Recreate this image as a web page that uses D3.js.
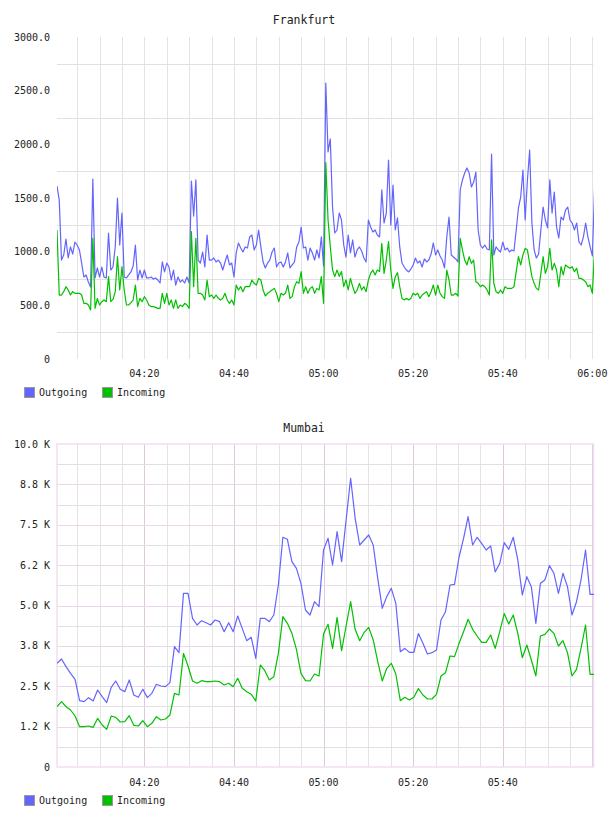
<!DOCTYPE html>
<html>
<head>
<meta charset="utf-8">
<script src="https://cdn.jsdelivr.net/npm/d3@7"></script>
<style>
body { margin: 0; background: #fff; }
text { font-family: "DejaVu Sans Mono", monospace; fill: #222; }
</style>
</head>
<body>
<div id="graph"></div>
<script>
// series shared by both panels
var seriesNames = ['Outgoing', 'Incoming']
var seriesColors = ['#6464ff', '#00c000']

// Frankfurt: 30 s samples from 04:00:30
var frankfurtStart = '04:00:30', frankfurtStepSec = 30
var frankfurtOut = [
  1612,1481,922,969,1118,941,1044,978,1090,1062,
  1016,894,764,783,717,671,1677,755,848,764,
  857,764,755,1174,829,857,1044,1500,1062,1360,
  764,755,783,811,866,1062,736,829,755,829,
  755,755,764,745,755,736,708,904,811,894,
  857,736,829,689,764,717,736,708,764,708,
  1658,1332,1668,922,894,997,857,1155,922,922,
  941,904,922,894,829,904,969,876,894,764,
  988,1081,1034,997,1044,1034,1137,1155,1016,1062,
  1202,1044,904,848,894,922,997,1034,857,894,
  904,857,904,988,848,876,904,1044,1090,1230,
  1034,1044,922,1034,988,922,1016,941,1137,866,
  2571,1929,2050,1416,1174,1202,1360,1295,1062,950,
  1155,988,1109,950,1016,1044,1006,941,904,1295,
  1230,1183,1202,1155,1137,1575,1267,1360,1854,1248,
  1621,1202,1314,1044,894,857,829,811,839,876,
  941,894,913,857,932,904,922,978,1081,969,
  1016,960,922,848,1137,1323,969,950,932,904,
  1575,1668,1733,1780,1733,1603,1649,1742,1202,1062,
  1034,1062,1025,1016,1910,969,1044,1016,997,1090,
  1016,1034,997,1016,1006,1202,1407,1509,1761,1295,
  1668,1947,1267,1016,941,978,1202,1416,1295,1221,
  1668,1360,1556,1230,1127,1323,1295,1388,1416,1295,
  1267,1202,1267,1090,1062,1137,1267,1137,1044,960,
  1603
]
var frankfurtIn = [
  1202,596,596,627,674,643,596,627,612,612,
  612,596,519,519,503,457,1124,472,565,503,
  534,550,534,767,534,556,627,953,643,860,
  643,503,503,525,550,689,488,565,534,581,
  550,503,488,488,481,472,472,612,519,612,
  503,550,472,550,472,503,488,519,503,472,
  1186,674,1124,612,612,596,550,736,581,596,
  565,596,565,550,565,612,550,519,550,503,
  689,643,674,627,674,674,674,736,705,689,
  751,736,643,587,612,627,643,658,612,534,
  612,596,612,689,565,581,674,720,705,814,
  612,674,612,658,674,612,658,643,767,519,
  1830,1295,1047,829,767,829,770,814,674,736,
  643,751,674,612,643,705,643,674,627,736,
  798,829,783,829,814,1078,798,922,1093,829,
  658,767,804,674,565,550,565,550,565,612,
  596,612,565,596,612,627,581,627,689,596,
  689,612,581,565,829,736,596,596,612,587,
  1124,1016,922,876,953,891,922,720,705,674,
  689,674,643,596,1109,705,627,612,643,612,
  674,658,658,658,674,814,953,876,969,1031,
  1016,891,767,705,658,643,798,953,798,860,
  1031,829,891,829,674,860,783,876,860,845,
  860,814,845,751,751,736,720,674,689,612,
  1031
]
var frankfurtYTicks = [0, 500, 1000, 1500, 2000, 2500, 3000]
var frankfurtYLabels = ['0', '500.0', '1000.0', '1500.0', '2000.0', '2500.0', '3000.0']
var frankfurtYGrid = [250, 750, 1250, 1750, 2250, 2750]
var frankfurtXLabels = ['04:20', '04:40', '05:00', '05:20', '05:40', '06:00']

// Mumbai: ~1 min samples from 04:00:30
var mumbaiStart = '04:00:30', mumbaiStepSec = 60.5
var mumbaiOut = [
  3210,3344,3106,2900,2715,2054,2023,2147,2043,2384,
  2177,1991,2467,2663,2405,2333,2694,2229,2157,2405,
  2147,2281,2560,2508,2487,2611,3726,3540,5376,5376,
  4602,4396,4530,4468,4396,4551,4499,4190,4468,4190,
  4675,4293,3912,4014,3365,4602,4602,4499,4706,5635,
  7111,7049,6357,6151,5687,4861,4706,5118,4963,6718,
  7080,6254,7285,6357,7647,8938,7699,6873,7028,7183,
  6873,5842,4913,5274,5532,5067,3570,3674,3550,3550,
  4133,3829,3498,3540,3622,4551,4808,5635,5656,6502,
  7080,7750,6873,7111,6925,6718,6842,6040,6300,6946,
  6739,7111,6409,5325,5893,5583,4447,5687,5790,6233,
  5997,5376,5997,5583,4706,5118,5790,6718,5346,5346
]
var mumbaiIn = [
  1867,2023,1867,1765,1579,1248,1248,1269,1228,1507,
  1300,1166,1579,1538,1393,1403,1589,1290,1269,1434,
  1248,1352,1558,1455,1486,1610,2281,2229,3519,3127,
  2663,2591,2673,2642,2642,2663,2642,2539,2591,2487,
  2746,2436,2333,2250,2043,3158,2983,2694,2797,3519,
  4654,4447,4138,3643,2900,2673,2663,2879,2817,4118,
  4417,3674,4633,3601,4365,5118,4262,3910,4170,4324,
  3932,3261,2663,3056,3210,2879,2054,2157,2074,2157,
  2426,2229,2105,2105,2250,2817,2920,3437,3416,3829,
  4190,4572,4262,4056,3860,3860,4087,3674,4190,4751,
  4427,4706,4138,3384,3777,3313,2817,4056,4107,4272,
  4138,3746,3910,3540,2817,3025,3674,4396,2870,2870
]
var mumbaiYTicks = [0, 1250, 2500, 3750, 5000, 6250, 7500, 8750, 10000]
var mumbaiYLabels = ['0', '1.2 K', '2.5 K', '3.8 K', '5.0 K', '6.2 K', '7.5 K', '8.8 K', '10.0 K']
var mumbaiYGrid = [625, 1875, 3125, 4375, 5625, 6875, 8125, 9375]
var mumbaiXLabels = ['04:20', '04:40', '05:00', '05:20', '05:40']

var parseTime = d3.timeParse('%H:%M:%S')
var W = 608, H = 816
var left = 57, right = 593.5

var svg = d3.select('#graph').append('svg')
  .attr('width', W).attr('height', H)

var x = d3.scaleTime()
  .domain([parseTime('04:00:30'), parseTime('06:00:15')])
  .range([left, right])

function timesFor(start, step, n) {
  var t0 = parseTime(start)
  return d3.range(n).map(i => new Date(t0.getTime() + i * step * 1000))
}

function drawPanel(p) {
  var g = svg.append('g')
  var y = d3.scaleLinear().domain(p.yDomain).range([p.bottom, p.top])

  g.append('text')
    .attr('x', 304).attr('y', p.titleY)
    .attr('text-anchor', 'middle').attr('dominant-baseline', 'central')
    .style('font-size', '11.5px')
    .text(p.title)

  // vertical grid every 5 minutes
  var minor = x.ticks(d3.timeMinute.every(5))
  g.selectAll('line.vgrid').data(minor).enter().append('line')
    .attr('x1', d => Math.round(x(d)) + 0.5).attr('x2', d => Math.round(x(d)) + 0.5)
    .attr('y1', p.top).attr('y2', p.bottom)
    .attr('stroke', d => p.framed && d.getMinutes() % 20 == 0 ? p.majorV : '#e3e3e3')

  g.selectAll('line.hgrid').data(p.yGrid).enter().append('line')
    .attr('x1', left).attr('x2', right)
    .attr('y1', d => Math.round(y(d)) + 0.5).attr('y2', d => Math.round(y(d)) + 0.5)
    .attr('stroke', '#e0e0e0')

  if (p.framed) {
    g.selectAll('line.major').data(p.yTicks.slice(1, -1)).enter().append('line')
      .attr('x1', left).attr('x2', right)
      .attr('y1', d => Math.round(y(d)) + 0.5).attr('y2', d => Math.round(y(d)) + 0.5)
      .attr('stroke', p.majorH)
    g.append('rect')
      .attr('x', left).attr('y', p.top)
      .attr('width', right - left).attr('height', p.bottom - p.top)
      .attr('fill', 'none').attr('stroke', '#efe0f0').attr('stroke-width', 1.5)
  }

  // y labels
  g.selectAll('text.ylab').data(p.yTicks).enter().append('text')
    .attr('x', 50).attr('y', d => y(d))
    .attr('text-anchor', 'end').attr('dominant-baseline', 'central')
    .style('font-size', '10px')
    .text((d, i) => p.yLabels[i])

  // x labels
  g.selectAll('text.xlab').data(p.xLabels).enter().append('text')
    .attr('x', d => x(parseTime(d + ':00'))).attr('y', p.xLabelY)
    .attr('text-anchor', 'middle').attr('dominant-baseline', 'central')
    .style('font-size', '10px')
    .text(d => d)

  var clipId = 'clip' + p.title
  svg.append('clipPath').attr('id', clipId).append('rect')
    .attr('x', left).attr('y', p.top - 5).attr('width', right - left + 0.5).attr('height', p.bottom - p.top + 10)

  var times = timesFor(p.start, p.step, p.series[0].length)
  var line = d3.line()
    .x((d, i) => x(times[i]))
    .y(d => y(d))

  g.append('g').attr('clip-path', 'url(#' + clipId + ')')
    .selectAll('path').data(p.series).enter().append('path')
    .attr('d', line)
    .attr('fill', 'none')
    .attr('stroke', (d, i) => seriesColors[i])
    .attr('stroke-width', 1.2)
    .attr('stroke-linejoin', 'round')

  // legend
  var lg = g.selectAll('g.legend').data(seriesNames).enter().append('g')
    .attr('transform', (d, i) => 'translate(' + (24 + i * 78) + ',' + p.legendY + ')')
  lg.append('rect')
    .attr('x', 0.5).attr('y', -4.5).attr('width', 10).attr('height', 10)
    .attr('fill', (d, i) => seriesColors[i]).attr('stroke', '#999')
  lg.append('text')
    .attr('x', 15).attr('y', 0.5)
    .attr('dominant-baseline', 'central')
    .style('font-size', '10px')
    .text(d => d)
}

drawPanel({
  title: 'Frankfurt', titleY: 20, top: 37, bottom: 359,
  yDomain: [0, 3000], yTicks: frankfurtYTicks, yLabels: frankfurtYLabels, yGrid: frankfurtYGrid,
  xLabels: frankfurtXLabels, xLabelY: 373, legendY: 392,
  start: frankfurtStart, step: frankfurtStepSec,
  series: [frankfurtOut, frankfurtIn], framed: false
})

drawPanel({
  title: 'Mumbai', titleY: 428, top: 444, bottom: 767,
  yDomain: [0, 10000], yTicks: mumbaiYTicks, yLabels: mumbaiYLabels, yGrid: mumbaiYGrid,
  xLabels: mumbaiXLabels, xLabelY: 782, legendY: 800,
  start: mumbaiStart, step: mumbaiStepSec,
  series: [mumbaiOut, mumbaiIn], framed: true, majorV: '#dfc9df', majorH: '#ebd7eb'
})
</script>
</body>
</html>
